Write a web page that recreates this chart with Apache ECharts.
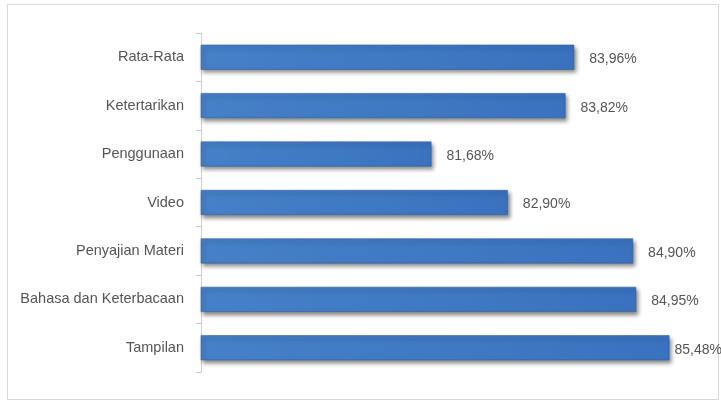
<!DOCTYPE html>
<html><head><meta charset="utf-8">
<script src="https://cdn.jsdelivr.net/npm/echarts@6/dist/echarts.min.js"></script>
<style>html,body{margin:0;padding:0;background:#fff}#c{width:721px;height:403px}</style>
</head><body><div id="c"></div>
<script>
const categories = ['Tampilan','Bahasa dan Keterbacaan','Penyajian Materi','Video','Penggunaan','Ketertarikan','Rata-Rata'];
const values = [85.48, 84.95, 84.90, 82.90, 81.68, 83.82, 83.96];
const xMin = 78, xMax = 86;

const chart = echarts.init(document.getElementById('c'));
const font = 'Liberation Sans, Arial, sans-serif';
chart.setOption({
  animation:false,
  backgroundColor:'#fff',
  graphic:[{type:'rect',shape:{x:7.5,y:4.5,width:711,height:395},style:{fill:'none',stroke:'#d9d9d9',lineWidth:1},silent:true}],
  grid:{left:201,right:19,top:33,bottom:31},
  xAxis:{type:'value',min:xMin,max:xMax,show:false},
  yAxis:{type:'category',data:categories,
    axisLine:{show:true,lineStyle:{color:'#d0d0d0',width:1}},
    axisTick:{show:true,length:5,lineStyle:{color:'#c8c8c8'}},
    axisLabel:{color:'#555555',fontSize:14.5,fontFamily:font,margin:17}},
  series:[{type:'bar',
    data:values.map((v,i)=> i===0 ? {value:v,label:{distance:5}} : v),
    barWidth:25,
    itemStyle:{color:new echarts.graphic.LinearGradient(0,0,1,0,[{offset:0,color:'#4680c8'},{offset:1,color:'#3a72bf'}]),
      borderColor:'#2f5f9f',borderWidth:0.6,
      shadowColor:'rgba(0,0,0,0.45)',shadowBlur:4,shadowOffsetX:2,shadowOffsetY:3},
    label:{show:true,position:'right',distance:15,color:'#555555',fontSize:14,fontFamily:font,
      formatter:p=>p.value.toFixed(2).replace('.',',')+'%',offset:[0,2]}}]
});
</script></body></html>
